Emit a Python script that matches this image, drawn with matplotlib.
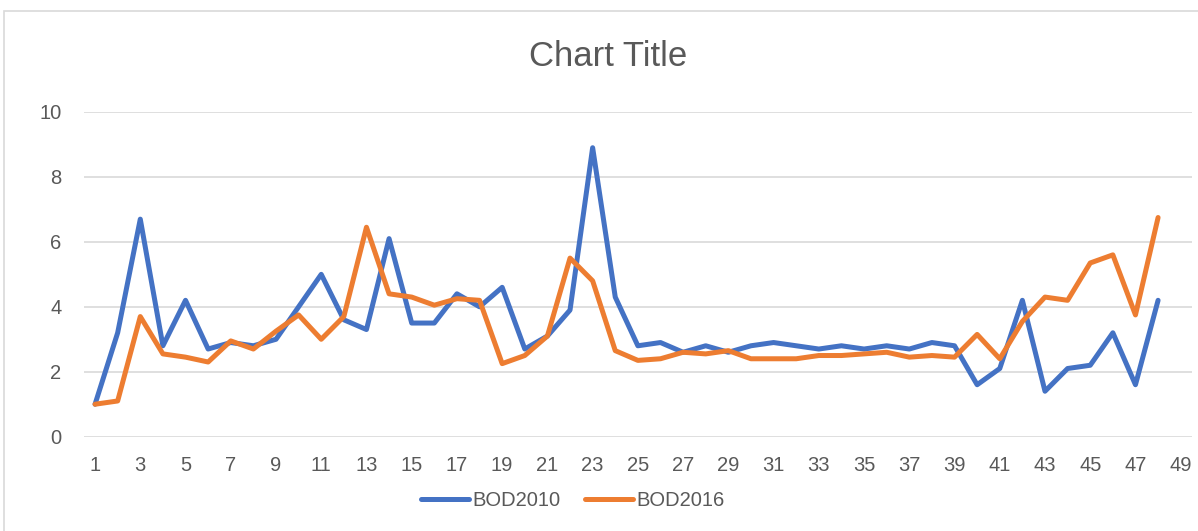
import matplotlib
matplotlib.use("Agg")
import matplotlib.pyplot as plt
from matplotlib.patches import Rectangle

plt.rcParams['font.family'] = ['Liberation Sans Narrow', 'Liberation Sans', 'DejaVu Sans']

categories = list(range(1, 50))
x = list(range(1, 49))
bod2010 = [1.0, 3.2, 6.7, 2.8, 4.2, 2.7, 2.9, 2.8, 3.0, 4.0,
           5.0, 3.6, 3.3, 6.1, 3.5, 3.5, 4.4, 4.0, 4.6, 2.7,
           3.1, 3.9, 8.9, 4.3, 2.8, 2.9, 2.6, 2.8, 2.6, 2.8,
           2.9, 2.8, 2.7, 2.8, 2.7, 2.8, 2.7, 2.9, 2.8, 1.6,
           2.1, 4.2, 1.4, 2.1, 2.2, 3.2, 1.6, 4.2]
bod2016 = [1.0, 1.1, 3.7, 2.55, 2.45, 2.3, 2.95, 2.7, 3.25, 3.75,
           3.0, 3.7, 6.45, 4.4, 4.3, 4.05, 4.25, 4.2, 2.25, 2.5,
           3.1, 5.5, 4.8, 2.65, 2.35, 2.4, 2.6, 2.55, 2.65, 2.4,
           2.4, 2.4, 2.5, 2.5, 2.55, 2.6, 2.45, 2.5, 2.45, 3.15,
           2.4, 3.55, 4.3, 4.2, 5.35, 5.6, 3.75, 6.75]

txt = '#595959'
grid = '#D9D9D9'

fig = plt.figure(figsize=(11.98, 5.31), dpi=100)
fig.patches.append(Rectangle((3.5 / 1198, -0.05), 1.2, (531 - 10.5) / 531 + 0.05,
                             transform=fig.transFigure, fill=False,
                             edgecolor=grid, linewidth=1.2))

ax = fig.add_axes([0.0699, 0.1776, 0.9251, 0.6115])
ax.plot(x, bod2010, color='#4472C4', lw=3.6, label='BOD2010', solid_joinstyle='round', solid_capstyle='round')
ax.plot(x, bod2016, color='#ED7D31', lw=3.6, label='BOD2016', solid_joinstyle='round', solid_capstyle='round')

ax.set_xlim(0.5, 49.5)
ax.set_ylim(0, 10)
ax.set_yticks([0, 2, 4, 6, 8, 10])
ax.set_xticks(categories[::2])
ax.grid(axis='y', color=grid, lw=1.2)
ax.set_axisbelow(True)
for s in ax.spines.values():
    s.set_visible(False)
ax.tick_params(length=0, labelsize=14.5, colors=txt)
ax.tick_params(axis='x', pad=14)
ax.tick_params(axis='y', pad=16)

fig.text(0.508, 0.893, 'Chart Title', ha='center', va='center', fontsize=25, color=txt)

fig.legend(loc='center', bbox_to_anchor=(0.478, 0.058), ncol=2, frameon=False,
           fontsize=14.5, labelcolor=txt, handlelength=2.4, handletextpad=0.15,
           columnspacing=1.2)

fig.savefig('out.png', dpi=100)
